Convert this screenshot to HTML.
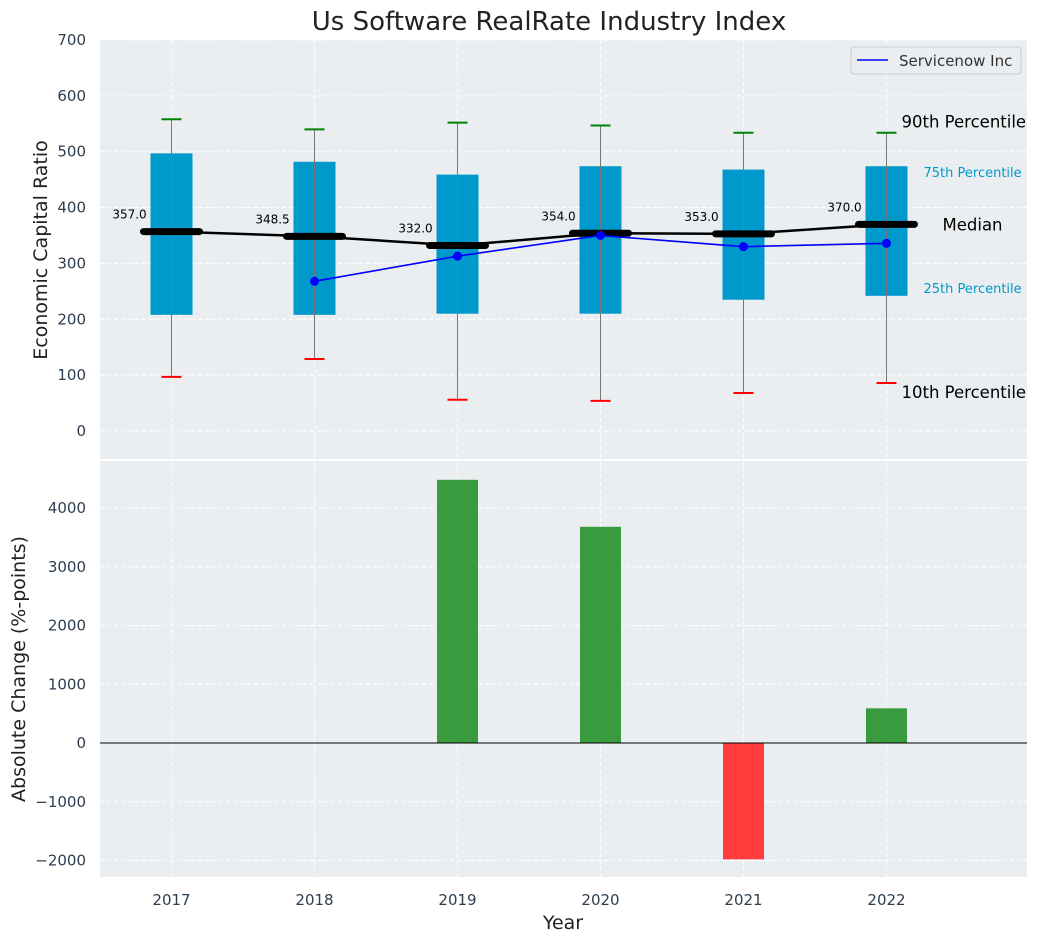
<!DOCTYPE html>
<html><head><meta charset="utf-8"><style>
body{margin:0;background:#fff;font-family:"DejaVu Sans","Liberation Sans",sans-serif}
svg text{font-family:"DejaVu Sans","Liberation Sans",sans-serif}
</style></head><body>
<svg id="c" width="1039" height="942" xmlns="http://www.w3.org/2000/svg"></svg>
<script>
const years=["2017","2018","2019","2020","2021","2022"];
const p10=[97,129,56,54,68,86];
const q1=[208,208,210,210,235,242];
const med=[357,348.5,332,354,353,370];
const q3=[497,482,459,474,468,474];
const p90=[558,540,552,547,534,534];
const snYears=[1,2,3,4,5];
const snVals=[268,313,350,330,336];
const changes=[0,0,4480,3680,-1980,590];
const topTicks=[0,100,200,300,400,500,600,700];
const botTicks=[-2000,-1000,0,1000,2000,3000,4000];

const svg=document.getElementById('c');
const NS='http://www.w3.org/2000/svg';
function el(t,a,txt){const e=document.createElementNS(NS,t);for(const k in a)e.setAttribute(k,a[k]);if(txt!=null)e.textContent=txt;svg.appendChild(e);return e;}
const L=100,R=1027;
const X=i=>L+(i+0.5)*143;
const Y1=v=>431-v*0.5586;
const Y2=v=>743-v*0.05875;

let t=el('text',{x:549,y:30,'font-size':26,'text-anchor':'middle',fill:'#222'},'Us Software RealRate Industry Index');


let bg=el('rect',{x:L,y:40,width:R-L,height:419,fill:'#eaeef0'});

let bg2=el('rect',{x:L,y:461,width:R-L,height:416,fill:'#eaeef0'});


topTicks.forEach(v=>{
  el('line',{x1:L,x2:R,y1:Y1(v),y2:Y1(v),stroke:'#fff','stroke-dasharray':'4,3'});
  let tt=el('text',{x:86,y:Y1(v)+5,'font-size':15,'text-anchor':'end',fill:'#2c3e50'},v);
  
});
botTicks.forEach(v=>{
  el('line',{x1:L,x2:R,y1:Y2(v),y2:Y2(v),stroke:'#fff','stroke-dasharray':'4,3'});
  let tt=el('text',{x:86,y:Y2(v)+5,'font-size':15,'text-anchor':'end',fill:'#2c3e50'},v<0?'\u2212'+(-v):v);
  
});
years.forEach((y,i)=>{
  el('line',{x1:X(i),x2:X(i),y1:40,y2:459,stroke:'#fff','stroke-dasharray':'4,3'});
  el('line',{x1:X(i),x2:X(i),y1:461,y2:877,stroke:'#fff','stroke-dasharray':'4,3'});
  let tt=el('text',{x:X(i),y:905,'font-size':15,'text-anchor':'middle',fill:'#2c3e50'},y);
  
});

years.forEach((y,i)=>{
  const x=X(i);
  let b=el('rect',{x:x-21,y:Y1(q3[i]),width:42,height:Y1(q1[i])-Y1(q3[i]),fill:'#0099cc'});
  
  el('line',{x1:x,x2:x,y1:Y1(p10[i]),y2:Y1(p90[i]),stroke:'#777','stroke-width':1});
  let a=el('line',{x1:x-10,x2:x+10,y1:Y1(p90[i]),y2:Y1(p90[i]),stroke:'green','stroke-width':2});
  
  let b2=el('line',{x1:x-10,x2:x+10,y1:Y1(p10[i]),y2:Y1(p10[i]),stroke:'red','stroke-width':2});
  
});
let mp=years.map((y,i)=>X(i)+','+Y1(med[i])).join(' ');
let ml=el('polyline',{points:mp,fill:'none',stroke:'#000','stroke-width':2.5});

years.forEach((y,i)=>{
  let m=el('line',{x1:X(i)-28,x2:X(i)+28,y1:Y1(med[i]),y2:Y1(med[i]),stroke:'#000','stroke-width':7,'stroke-linecap':'round'});
  
  let l=el('text',{x:X(i)-42,y:Y1(med[i])-13,'font-size':12,'text-anchor':'middle',fill:'#000'},med[i].toFixed(1));
  
});
let sp=snYears.map((k,j)=>X(k)+','+Y1(snVals[j])).join(' ');
let sl=el('polyline',{points:sp,fill:'none',stroke:'blue','stroke-width':1.6});

snYears.forEach((k,j)=>{
  let c=el('circle',{cx:X(k),cy:Y1(snVals[j]),r:4.5,fill:'blue'});
  
});
const lx=X(5);
[['90th Percentile',Y1(p90[5])-5,16.5,'#000',lx+15],['75th Percentile',Y1(q3[5])+11,13,'#0099cc',lx+37],['Median',Y1(med[5])+6,16.5,'#000',lx+56],['25th Percentile',Y1(q1[5])-3,13,'#0099cc',lx+37],['10th Percentile',Y1(p10[5])+15,16.5,'#000',lx+15]].forEach(a=>{
  let e=el('text',{x:a[4],y:a[1],'font-size':a[2],fill:a[3]},a[0]);
  
});
let lg=el('rect',{x:851,y:47,width:170,height:27,rx:3,fill:'#eaeef0',stroke:'#ccc'});

el('line',{x1:857,x2:888,y1:60,y2:60,stroke:'blue','stroke-width':1.6});
let lt=el('text',{x:899,y:66,'font-size':15,fill:'#333'},'Servicenow Inc');


years.forEach((y,i)=>{
  const v=changes[i]; if(v===0)return;
  let r=el('rect',{x:X(i)-20.5,y:Math.min(Y2(v),Y2(0)),width:41,height:Math.abs(Y2(v)-Y2(0)),fill:v>0?'#3a9b3e':'#ff3b3b'});
  
});
el('line',{x1:L,x2:R,y1:Y2(0),y2:Y2(0),stroke:'#000','stroke-width':1});

let yt=el('text',{x:0,y:0,'font-size':19,'text-anchor':'middle',fill:'#222',transform:'translate(47,250) rotate(-90)'},'Economic Capital Ratio');

let yb=el('text',{x:0,y:0,'font-size':19,'text-anchor':'middle',fill:'#222',transform:'translate(25,669) rotate(-90)'},'Absolute Change (%-points)');

let xt=el('text',{x:563,y:929,'font-size':19,'text-anchor':'middle',fill:'#222'},'Year');

</script>
</body></html>
